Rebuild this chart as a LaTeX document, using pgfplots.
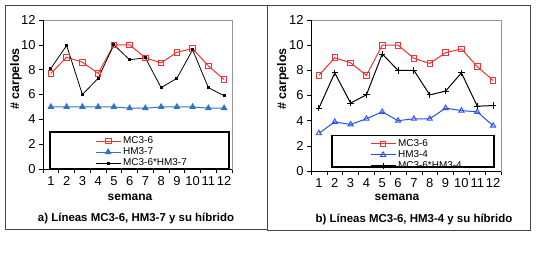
\documentclass[border=0pt]{standalone}
\usepackage{fontspec}
\setmainfont{Liberation Sans}
\usepackage{pgfplots}
\pgfplotsset{compat=1.18}
\definecolor{myred}{RGB}{240,50,50}
\definecolor{blueA}{RGB}{50,115,200}
\definecolor{blueB}{RGB}{40,80,240}
\definecolor{framec}{RGB}{70,70,70}
\definecolor{boxgray}{RGB}{150,150,150}

\pgfplotsset{
 mystyle/.style={
  scale only axis,
  xmin=0.5, xmax=12.5, ymin=0, ymax=12,
  ytick={0,2,...,12},
  xtick={0.5,1.5,...,12.5},
  x tick label as interval,
  xticklabels={1,2,3,4,5,6,7,8,9,10,11,12},
  axis line style={boxgray, line width=0.8bp},
  tick style={black, line width=0.6bp},
  tick align=outside,
  tick pos=left,
  major tick length=4bp,
  tick label style={font=\fontsize{13}{13}\selectfont},
  xticklabel style={inner xsep=0pt},
  /pgf/number format/assume math mode=true,
  clip=false,
  legend cell align=left,
  legend style={draw=none, fill=none, font=\fontsize{10}{10}\selectfont, inner sep=0pt, row sep=-1.5bp, anchor=north west},
  legend image code/.code={\draw[mark repeat=2,mark phase=2] plot coordinates {(0bp,0bp) (12.5bp,0bp) (25bp,0bp)};},
 }
}

\begin{document}
\begin{tikzpicture}
\useasboundingbox (0,0) rectangle (540bp,255bp);
\draw[framec, line width=1bp] (5bp,25bp) rectangle (267.5bp,249bp);
\draw[framec, line width=1bp] (267.5bp,24bp) rectangle (530bp,249bp);

% left panel
\begin{axis}[mystyle, at={(43bp,86bp)}, anchor=south west, width=189bp, height=149bp,
  legend style={at={(rel axis cs:0.275,0.23)}}]
\addplot[myred, line width=1bp, mark=square, mark size=2.8bp, mark options={solid, line width=0.9bp}]
 coordinates {(1,7.7)(2,9.0)(3,8.6)(4,7.7)(5,10.0)(6,10.0)(7,8.95)(8,8.55)(9,9.4)(10,9.7)(11,8.3)(12,7.2)};
\addlegendentry{MC3-6}
\addplot[blueA, line width=1bp, mark=triangle*, mark size=3bp, mark options={solid, fill=blueA}]
 coordinates {(1,5)(2,5)(3,5)(4,5)(5,5)(6,4.9)(7,4.9)(8,5)(9,5)(10,5)(11,4.9)(12,4.9)};
\addlegendentry{HM3-7}
\addplot[black, line width=0.8bp, mark=square*, mark size=1bp]
 coordinates {(1,8.1)(2,9.95)(3,6.0)(4,7.3)(5,10.0)(6,8.8)(7,8.95)(8,6.55)(9,7.3)(10,9.6)(11,6.55)(12,5.9)};
\addlegendentry{MC3-6*HM3-7}
\draw[black, line width=1.4bp] (rel axis cs:0.037,0) rectangle (rel axis cs:0.985,0.248);
\draw[black, line width=0.8bp] (rel axis cs:0,1) -- (rel axis cs:0,0) -- (rel axis cs:1,0);
\end{axis}

% right panel
\begin{axis}[mystyle, at={(311bp,84bp)}, anchor=south west, width=190bp, height=151bp,
  legend style={at={(rel axis cs:0.31,0.222)}}]
\addplot[myred, line width=1bp, mark=square, mark size=2.8bp, mark options={solid, line width=0.9bp}]
 coordinates {(1,7.6)(2,9.0)(3,8.6)(4,7.6)(5,10.0)(6,10.0)(7,8.95)(8,8.55)(9,9.4)(10,9.7)(11,8.3)(12,7.2)};
\addlegendentry{MC3-6}
\addplot[blueB, line width=1bp, mark=triangle, mark size=3bp, mark options={solid, line width=0.9bp}]
 coordinates {(1,3.0)(2,3.9)(3,3.7)(4,4.15)(5,4.7)(6,4.0)(7,4.15)(8,4.15)(9,5.0)(10,4.8)(11,4.7)(12,3.6)};
\addlegendentry{HM3-4}
\addplot[black, line width=1bp, mark=+, mark size=3.2bp, mark options={solid, line width=0.9bp}]
 coordinates {(1,5.0)(2,7.8)(3,5.4)(4,6.05)(5,9.3)(6,8.0)(7,8.0)(8,6.05)(9,6.35)(10,7.8)(11,5.15)(12,5.2)};
\addlegendentry{MC3-6*HM3-4}
\draw[black, line width=1.4bp] (rel axis cs:0.11,0.026) rectangle (rel axis cs:0.963,0.235);
\draw[black, line width=0.8bp] (rel axis cs:0,1) -- (rel axis cs:0,0) -- (rel axis cs:1,0);
\end{axis}

\node[rotate=90, font=\bfseries\fontsize{12.5}{12}\selectfont] at (16bp,176bp) {\# carpelos};
\node[rotate=90, font=\bfseries\fontsize{12.5}{12}\selectfont] at (283bp,176bp) {\# carpelos};
\node[font=\bfseries\fontsize{12}{12}\selectfont] at (130bp,58bp) {semana};
\node[font=\bfseries\fontsize{12}{12}\selectfont] at (397bp,58bp) {semana};
\node[font=\bfseries\fontsize{11.5}{12}\selectfont] at (136bp,37bp) {a) Líneas MC3-6, HM3-7 y su híbrido};
\node[font=\bfseries\fontsize{11.5}{12}\selectfont] at (414bp,36bp) {b) Líneas MC3-6, HM3-4 y su híbrido};
\end{tikzpicture}
\end{document}
